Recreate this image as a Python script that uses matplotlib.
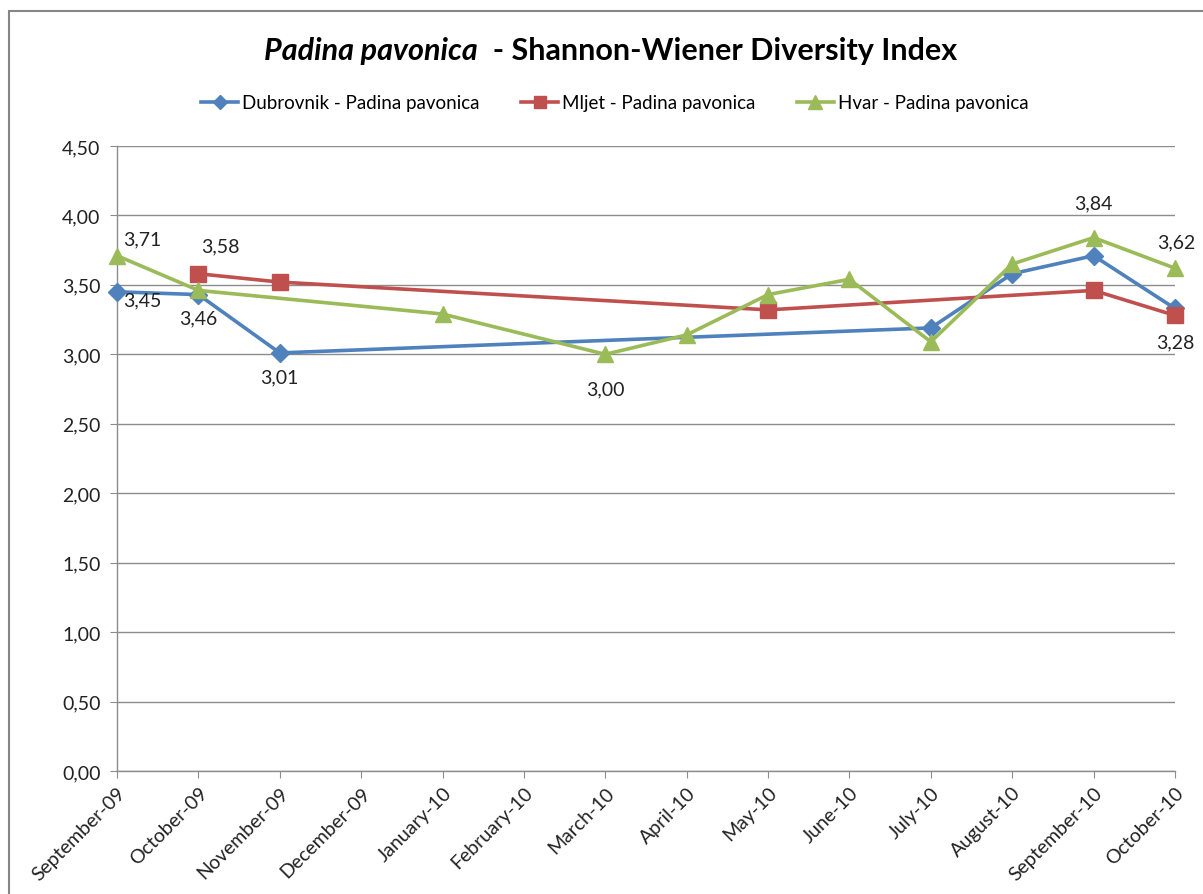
import numpy as np
import matplotlib
matplotlib.use("Agg")
import matplotlib.pyplot as plt
from matplotlib.patches import Rectangle
from matplotlib.ticker import FuncFormatter

plt.rcParams['font.family'] = ['Lato', 'DejaVu Sans']

# Data (None = no sample that month)
months = ["September-09", "October-09", "November-09", "December-09", "January-10",
          "February-10", "March-10", "April-10", "May-10", "June-10", "July-10",
          "August-10", "September-10", "October-10"]
dubrovnik = [3.45, 3.43, 3.01, None, None, None, None, None, None, None, 3.19, 3.58, 3.71, 3.33]
mljet = [None, 3.58, 3.52, None, None, None, None, None, 3.32, None, None, None, 3.46, 3.28]
hvar = [3.71, 3.46, None, None, 3.29, None, 3.00, 3.14, 3.43, 3.54, 3.09, 3.65, 3.84, 3.62]

series_names = ["Dubrovnik - Padina pavonica", "Mljet - Padina pavonica", "Hvar - Padina pavonica"]
colors = ["#4F81BD", "#C0504D", "#9BBB59"]
markers = ["D", "s", "^"]
msizes = [9, 11, 12]

# which points get a value label and where (dx, dy in points)
labels = {
    0: [(0, (18, -6)), (2, (0, -17))],
    1: [(1, (16, 20)), (13, (0, -19))],
    2: [(0, (18, 12)), (1, (0, -20)), (6, (0, -25)), (12, (0, 25)), (13, (1, 19))],
}

fig = plt.figure(figsize=(12.03, 8.95), dpi=100)
ax = fig.add_axes([0.0973, 0.1374, 0.8794, 0.6984])

x = np.arange(len(months))
all_series = [dubrovnik, mljet, hvar]
for i, s in enumerate(all_series):
    y = np.array([np.nan if v is None else v for v in s])
    m = ~np.isnan(y)
    ax.plot(x[m], y[m], color=colors[i], lw=2.6, marker=markers[i], ms=msizes[i],
            mfc=colors[i], mec=colors[i], label=series_names[i], clip_on=False, zorder=3 + i)
    for idx, off in labels[i]:
        ax.annotate(f"{y[idx]:.2f}".replace(".", ","), (x[idx], y[idx]),
                    xytext=off, textcoords="offset points", ha="center", va="center",
                    fontsize=14, color="#222222")

ax.set_xlim(0, len(months) - 1)
ax.set_ylim(0, 4.5)
ax.set_yticks(np.arange(0, 4.51, 0.5))
ax.yaxis.set_major_formatter(FuncFormatter(lambda v, p: f"{v:.2f}".replace(".", ",")))
ax.set_xticks(x)
ax.set_xticklabels(months, rotation=45, ha="right", rotation_mode="anchor")
ax.grid(axis="y", color="#8c8c8c", lw=1)
ax.set_axisbelow(True)
for sp in ["top", "right"]:
    ax.spines[sp].set_visible(False)
for sp in ["left", "bottom"]:
    ax.spines[sp].set_color("#8c8c8c")
    ax.spines[sp].set_linewidth(1)
ax.tick_params(axis="both", colors="#8c8c8c", length=5, labelsize=14, labelcolor="#222222")
ax.tick_params(axis="y", pad=7)
ax.tick_params(axis="x", pad=4)

# title in two parts: italic species name + bold rest
fig.text(0.3975, 0.943, "Padina pavonica", fontsize=22, fontweight="bold", fontstyle="italic",
         ha="right", va="center")
fig.text(0.3975, 0.943, "  - Shannon-Wiener Diversity Index", fontsize=22, fontweight="bold",
         ha="left", va="center")

fig.legend(loc="center", bbox_to_anchor=(0.511, 0.884), ncol=3, frameon=False, fontsize=13.5,
           handlelength=2.0, columnspacing=2.2, handletextpad=0.2, markerscale=0.8)

# outer chart border
fig.patches.append(Rectangle((9 / 1203, -0.01), 1.02, 1 - 12 / 895 + 0.01,
                             transform=fig.transFigure, fill=False, ec="#868686", lw=1.5))

fig.savefig("out.png", dpi=100)
